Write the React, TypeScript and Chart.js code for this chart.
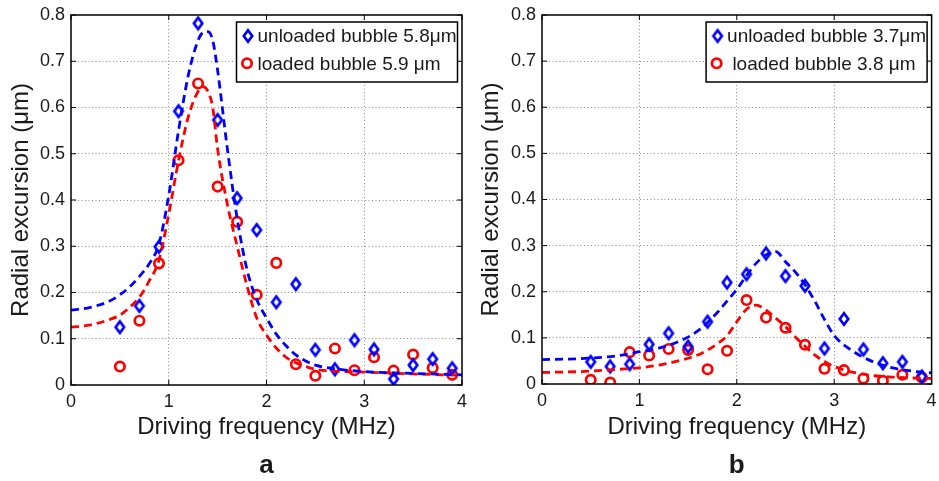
import React, { useEffect, useRef } from 'react';
import { Chart, registerables } from 'chart.js';

Chart.register(...registerables);

const FONT = '"Liberation Sans", Arial, Helvetica, sans-serif';
const TEXT_COLOR = '#1a1a1a';
const BLUE = '#0000ff';
const RED = '#ff0000';

// ---- data ----
const frequencies = [0.5, 0.7, 0.9, 1.1, 1.3, 1.5, 1.7, 1.9, 2.1, 2.3, 2.5, 2.7, 2.9, 3.1, 3.3, 3.5, 3.7, 3.9];

const unloadedA = [0.125, 0.171, 0.299, 0.592, 0.782, 0.573, 0.404, 0.335, 0.179, 0.218, 0.076, 0.034, 0.097, 0.077, 0.013, 0.043, 0.056, 0.036];
const loadedA = [0.040, 0.139, 0.263, 0.486, 0.652, 0.429, 0.353, 0.195, 0.264, 0.045, 0.020, 0.079, 0.032, 0.060, 0.031, 0.066, 0.037, 0.022];

const fitFreqA = [0, 0.2, 0.4, 0.5, 0.6, 0.7, 0.8, 0.9, 1.0, 1.1, 1.2, 1.3, 1.35, 1.4, 1.45, 1.5, 1.6, 1.7, 1.8, 1.9, 2.0, 2.1, 2.2, 2.3, 2.4, 2.5, 2.7, 3.0, 3.5, 4.0];
const unloadedFitA = [0.162, 0.168, 0.182, 0.195, 0.212, 0.235, 0.262, 0.305, 0.41, 0.55, 0.67, 0.745, 0.762, 0.764, 0.745, 0.68, 0.51, 0.36, 0.25, 0.185, 0.145, 0.11, 0.085, 0.065, 0.052, 0.043, 0.035, 0.029, 0.025, 0.022];
const loadedFitA = [0.125, 0.13, 0.142, 0.151, 0.168, 0.19, 0.225, 0.27, 0.37, 0.485, 0.58, 0.635, 0.645, 0.635, 0.6, 0.51, 0.39, 0.3, 0.215, 0.145, 0.108, 0.08, 0.06, 0.048, 0.04, 0.034, 0.03, 0.028, 0.024, 0.021];

const unloadedB = [0.048, 0.038, 0.043, 0.086, 0.110, 0.081, 0.135, 0.220, 0.238, 0.283, 0.234, 0.213, 0.077, 0.141, 0.075, 0.045, 0.048, 0.016];
const loadedB = [0.009, 0.003, 0.069, 0.062, 0.076, 0.074, 0.032, 0.072, 0.182, 0.144, 0.122, 0.085, 0.033, 0.030, 0.012, 0.007, 0.020, 0.014];

const fitFreqB = [0, 0.4, 0.8, 1.0, 1.2, 1.4, 1.6, 1.8, 1.9, 2.0, 2.1, 2.2, 2.3, 2.4, 2.5, 2.6, 2.7, 2.8, 2.9, 3.0, 3.2, 3.4, 3.6, 3.8, 4.0];
const unloadedFitB = [0.053, 0.055, 0.062, 0.07, 0.078, 0.092, 0.115, 0.155, 0.18, 0.205, 0.235, 0.262, 0.28, 0.287, 0.265, 0.243, 0.215, 0.18, 0.14, 0.105, 0.07, 0.048, 0.035, 0.028, 0.024];
const loadedFitB = [0.025, 0.027, 0.032, 0.035, 0.041, 0.05, 0.063, 0.087, 0.105, 0.135, 0.162, 0.171, 0.16, 0.143, 0.124, 0.102, 0.082, 0.063, 0.049, 0.038, 0.025, 0.018, 0.015, 0.013, 0.012];

const xTickValues = [0, 1, 2, 3, 4];
const xTickLabels = ['0', '1', '2', '3', '4'];
const yTickValues = [0, 0.1, 0.2, 0.3, 0.4, 0.5, 0.6, 0.7, 0.8];
const yTickLabels = ['0', '0.1', '0.2', '0.3', '0.4', '0.5', '0.6', '0.7', '0.8'];

const xTitle = 'Driving frequency (MHz)';
const yTitle = 'Radial excursion (μm)';

// ---- marker images ----
function makeDiamond(color: string): HTMLCanvasElement {
  const c = document.createElement('canvas');
  c.width = 16;
  c.height = 20;
  const g = c.getContext('2d')!;
  const cx = 8, cy = 10, hw = 4.2, hh = 5.7;
  g.strokeStyle = color;
  g.lineWidth = 2.7;
  g.beginPath();
  g.moveTo(cx, cy - hh);
  g.lineTo(cx + hw, cy);
  g.lineTo(cx, cy + hh);
  g.lineTo(cx - hw, cy);
  g.closePath();
  g.stroke();
  return c;
}

type PanelProps = {
  unloaded: number[];
  loaded: number[];
  fitFreq: number[];
  unloadedFit: number[];
  loadedFit: number[];
  unloadedLabel: string;
  loadedLabel: string;
  letter: string;
  width: number;
  areaLeft: number;
  areaRight: number;
  areaBottom: number;
};

function Panel(p: PanelProps) {
  const ref = useRef<HTMLCanvasElement | null>(null);

  useEffect(() => {
    const canvas = ref.current;
    if (!canvas) return;
    const diamond = makeDiamond(BLUE);

    const toPts = (xs: number[], ys: number[]) => xs.map((x, i) => ({ x, y: ys[i] }));

    const framePlugin = {
      id: 'matlabFrame',
      afterDatasetsDraw(chart: any) {
        const { ctx, chartArea } = chart;
        const { left, right, top, bottom } = chartArea;
        const xs = chart.scales.x;
        const ys = chart.scales.y;
        ctx.save();
        ctx.strokeStyle = '#000';
        ctx.lineWidth = 1;
        const tl = 5;
        ctx.beginPath();
        xTickValues.forEach((v) => {
          const px = xs.getPixelForValue(v);
          ctx.moveTo(px, bottom);
          ctx.lineTo(px, bottom - tl);
          ctx.moveTo(px, top);
          ctx.lineTo(px, top + tl);
        });
        yTickValues.forEach((v) => {
          const py = ys.getPixelForValue(v);
          ctx.moveTo(left, py);
          ctx.lineTo(left + tl, py);
          ctx.moveTo(right, py);
          ctx.lineTo(right - tl, py);
        });
        ctx.stroke();
        ctx.lineWidth = 1.5;
        ctx.strokeRect(left, top, right - left, bottom - top);

        // legend box
        const w = 221, h = 60;
        const x0 = right - 4.5 - w;
        const y0 = top + 7;
        ctx.fillStyle = '#fff';
        ctx.fillRect(x0, y0, w, h);
        ctx.lineWidth = 1.5;
        ctx.strokeStyle = '#000';
        ctx.strokeRect(x0, y0, w, h);
        const items = chart.data.datasets.filter((d: any) => d.inLegend);
        ctx.font = `19px ${FONT}`;
        ctx.fillStyle = TEXT_COLOR;
        ctx.textBaseline = 'middle';
        ctx.textAlign = 'left';
        items.forEach((d: any, i: number) => {
          const cy = y0 + 14 + i * 27.3;
          const mx = x0 + 11.5;
          if (d.marker === 'diamond') {
            ctx.drawImage(diamond, mx - diamond.width / 2, cy - diamond.height / 2);
          } else {
            ctx.beginPath();
            ctx.strokeStyle = RED;
            ctx.lineWidth = 2.7;
            ctx.arc(mx - 1, cy, 4.7, 0, Math.PI * 2);
            ctx.stroke();
          }
          ctx.fillStyle = TEXT_COLOR;
          ctx.fillText(d.label, x0 + 21, cy + 1);
        });

        // panel letter
        ctx.font = `bold 26px ${FONT}`;
        ctx.textAlign = 'center';
        ctx.textBaseline = 'alphabetic';
        ctx.fillText(p.letter, (left + right) / 2, 473);
        ctx.restore();
      },
    };

    const chart = new Chart(canvas, {
      type: 'scatter',
      data: {
        datasets: [
          {
            label: p.unloadedLabel + ' fit',
            data: toPts(p.fitFreq, p.unloadedFit),
            showLine: true,
            pointRadius: 0,
            borderColor: BLUE,
            borderWidth: 2.8,
            borderDash: [8, 5],
            cubicInterpolationMode: 'monotone',
            fill: false,
          } as any,
          {
            label: p.loadedLabel + ' fit',
            data: toPts(p.fitFreq, p.loadedFit),
            showLine: true,
            pointRadius: 0,
            borderColor: RED,
            borderWidth: 2.8,
            borderDash: [8, 5],
            cubicInterpolationMode: 'monotone',
            fill: false,
          } as any,
          {
            label: p.unloadedLabel,
            inLegend: true,
            marker: 'diamond',
            data: toPts(frequencies, p.unloaded),
            showLine: false,
            pointStyle: diamond,
            pointRadius: 6,
            borderColor: BLUE,
            backgroundColor: 'transparent',
          } as any,
          {
            label: p.loadedLabel,
            inLegend: true,
            marker: 'circle',
            data: toPts(frequencies, p.loaded),
            showLine: false,
            pointStyle: 'circle',
            pointRadius: 4.7,
            pointBorderWidth: 2.7,
            borderColor: RED,
            pointBorderColor: RED,
            backgroundColor: 'transparent',
            pointBackgroundColor: 'transparent',
          } as any,
        ],
      },
      options: {
        responsive: false,
        animation: false,
        devicePixelRatio: 1,
        layout: { padding: { left: 0, right: p.width - p.areaRight, top: 15, bottom: 0 } },
        plugins: {
          legend: { display: false },
          tooltip: { enabled: false },
        },
        events: [],
        scales: {
          x: {
            type: 'linear',
            min: 0,
            max: 4,
            afterBuildTicks: (s: any) => {
              s.ticks = xTickValues.map((v) => ({ value: v }));
            },
            afterFit: (s: any) => {
              s.height = 481 - p.areaBottom;
              s.paddingLeft = 0;
              s.paddingRight = 0;
            },
            ticks: {
              autoSkip: false,
              maxRotation: 0,
              padding: 6,
              color: TEXT_COLOR,
              font: { family: FONT, size: 18 },
              callback: (_v: any, i: number) => xTickLabels[i],
            },
            grid: {
              drawTicks: false,
              lineWidth: 1,
              color: (c: any) => (c.tick && (c.tick.value === 0 || c.tick.value === 4) ? 'rgba(0,0,0,0)' : '#8c8c8c'),
            },
            border: { display: false, dash: [1, 2.5] },
            title: {
              display: true,
              text: xTitle,
              color: TEXT_COLOR,
              font: { family: FONT, size: 24 },
              padding: { top: 0, bottom: 39 },
            },
          },
          y: {
            type: 'linear',
            min: 0,
            max: 0.8,
            afterBuildTicks: (s: any) => {
              s.ticks = yTickValues.map((v) => ({ value: v }));
            },
            afterFit: (s: any) => {
              s.width = p.areaLeft;
              s.paddingTop = 0;
              s.paddingBottom = 0;
            },
            ticks: {
              autoSkip: false,
              padding: 6,
              color: TEXT_COLOR,
              font: { family: FONT, size: 18 },
              callback: (_v: any, i: number) => yTickLabels[i],
            },
            grid: {
              drawTicks: false,
              lineWidth: 1,
              color: (c: any) => (c.tick && (c.tick.value === 0 || Math.abs(c.tick.value - 0.8) < 1e-9) ? 'rgba(0,0,0,0)' : '#8c8c8c'),
            },
            border: { display: false, dash: [1, 2.5] },
            title: {
              display: true,
              text: yTitle,
              color: TEXT_COLOR,
              font: { family: FONT, size: 24 },
              padding: { top: 7, bottom: 0 },
            },
          },
        },
      } as any,
      plugins: [framePlugin],
    });

    return () => {
      chart.destroy();
    };
  }, []);

  return <canvas ref={ref} width={p.width} height={481} style={{ display: 'block', width: p.width, height: 481 }} />;
}

export default function App() {
  return (
    <div style={{ position: 'absolute', left: 0, top: 0, width: 939, height: 481, background: '#fff', display: 'flex' }}>
      <Panel
        unloaded={unloadedA}
        loaded={loadedA}
        fitFreq={fitFreqA}
        unloadedFit={unloadedFitA}
        loadedFit={loadedFitA}
        unloadedLabel="unloaded bubble 5.8μm"
        loadedLabel="loaded bubble 5.9 μm"
        letter="a"
        width={470}
        areaLeft={71}
        areaRight={462}
        areaBottom={385}
      />
      <Panel
        unloaded={unloadedB}
        loaded={loadedB}
        fitFreq={fitFreqB}
        unloadedFit={unloadedFitB}
        loadedFit={loadedFitB}
        unloadedLabel="unloaded bubble 3.7μm"
        loadedLabel=" loaded bubble 3.8 μm"
        letter="b"
        width={469}
        areaLeft={72}
        areaRight={463}
        areaBottom={384}
      />
    </div>
  );
}
